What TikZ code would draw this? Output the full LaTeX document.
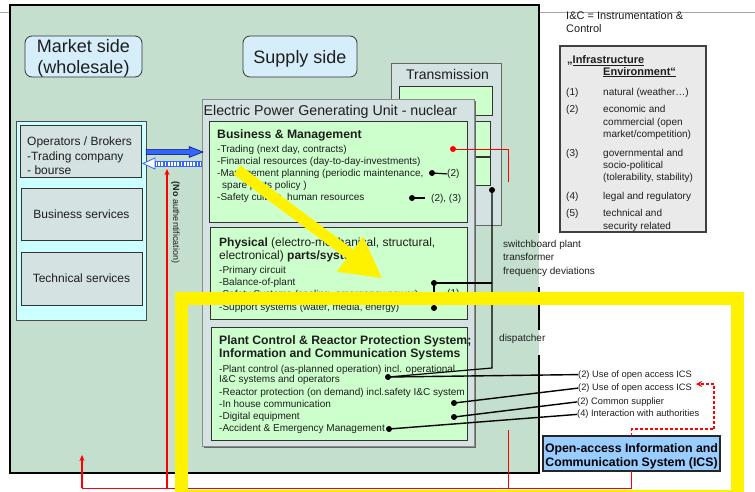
\documentclass[tikz,border=0pt]{standalone}
\usepackage{fontspec}
\setmainfont{Liberation Sans}
\usetikzlibrary{arrows.meta,calc}

\definecolor{mainbg}{RGB}{197,223,206}
\definecolor{sidebox}{RGB}{214,237,250}
\definecolor{opsbg}{RGB}{204,255,255}
\definecolor{greybox}{RGB}{212,226,226}
\definecolor{greenbox}{RGB}{204,255,204}
\definecolor{legendbg}{RGB}{234,234,234}
\definecolor{icsblue}{RGB}{153,204,255}
\definecolor{arrowblue}{RGB}{51,102,255}
\definecolor{txtgrey}{RGB}{30,30,30}

\newcommand\fsz[2]{\fontsize{#1}{#2}\selectfont}

\begin{document}
\begin{tikzpicture}[x=1pt,y=-1pt,
  box/.style={draw=black!80, line width=0.8pt, inner sep=0pt, outer sep=0pt, anchor=north west},
  % multi-line labels are placed by the baseline of their last line
  lbl/.style={inner sep=0pt, anchor=base west, align=left, text=txtgrey},
  dot/.style={circle, fill=black, inner sep=0pt, minimum size=6pt},
  conn/.style={line width=1.4pt, black},
  redline/.style={red, line width=1.2pt},
]
\useasboundingbox (0,0) rectangle (755,491);

% page rule
\draw[black!35, line width=0.8pt] (0,12) -- (755,12);

% overall area (border interrupted on the right by the side notes)
\fill[mainbg] (10,5) rectangle (539,473);
\draw[line width=2.4pt, line join=miter] (539,233) -- (539,5) -- (10,5) -- (10,473) -- (539,473) -- (539,355);
\draw[line width=2.4pt] (539,330) -- (539,287);

% side headings
\node[box, rounded corners=7pt, fill=sidebox, minimum width=117, minimum height=41] (market) at (25,36) {};
\node[lbl, anchor=base, align=center, font=\fsz{18}{20.3}] (markett) at (83.5,73) {Market side\\(wholesale)};
\node[box, rounded corners=7pt, fill=sidebox, minimum width=114, minimum height=41] (supply) at (243,36) {};
\node[lbl, anchor=base, font=\fsz{18}{20}] (supplyt) at (300,63.3) {Supply side};

% market participants
\node[box, fill=opsbg, draw=black!70, minimum width=130, minimum height=199] (mgroup) at (16,121) {};
\node[box, fill=greybox, minimum width=121, minimum height=52] (ops) at (20,125) {};
\node[lbl, font=\fsz{12}{14.7}] (opst) at (27,174.9) {Operators / Brokers\\-Trading company\\- bourse};
\node[box, fill=greybox, minimum width=121, minimum height=52, font=\fsz{12}{14}, text=txtgrey] (bizsvc) at (21,188) {Business services};
\node[box, fill=greybox, minimum width=121, minimum height=53, font=\fsz{12}{14}, text=txtgrey] (techsvc) at (21,252) {Technical services};

% transmission stack
\node[box, fill=greybox, draw=black!60, minimum width=110, minimum height=162] (trans) at (391,63) {};
\node[lbl, font=\fsz{14}{16}] (transt) at (406,79) {Transmission};
\node[box, fill=greenbox, minimum width=93, minimum height=29] (tr1) at (399,86) {};
\node[box, fill=greenbox, minimum width=70, minimum height=35] (tr2) at (420,121) {};
\node[box, fill=greenbox, minimum width=70, minimum height=28] (tr3) at (420,157) {};

% generating unit
\fill[black!60] (204,101) rectangle (476,448);
\node[box, fill=greybox, draw=black!45, minimum width=272, minimum height=347] (epgu) at (202,99) {};
\node[lbl, font=\fsz{14.2}{16}] (epgut) at (203.5,115) {Electric Power Generating Unit - nuclear};

\node[box, fill=greenbox, minimum width=258, minimum height=101] (bm) at (209,121) {};
\node[lbl, font=\bfseries\fsz{12.2}{14}] (bmt) at (217,138.3) {Business \& Management};
\node[lbl, font=\fsz{10}{12.1}] (bmi) at (217,200.9) {-Trading (next day, contracts)\\-Financial resources (day-to-day-investments)\\-Management planning (periodic maintenance,\\\hspace*{5pt}spare parts policy )\\-Safety culture, human resources};

\node[box, fill=greenbox, minimum width=257, minimum height=92] (phys) at (210,227) {};
\node[lbl, font=\fsz{12}{13.3}] (physt) at (219,259.3) {\textbf{Physical} (electro-mechanical, structural,\\electronical) \textbf{parts/systems}};
\node[lbl, font=\fsz{10}{12.2}] (physi) at (219,310.1) {-Primary circuit\\-Balance-of-plant\\-Safety Systems (cooling, emergency power)\\-Support systems (water, media, energy)};

\node[box, fill=greenbox, minimum width=256, minimum height=113] (pc) at (211,327) {};
\node[lbl, font=\bfseries\fsz{12.2}{13.3}] (pct) at (219,357.3) {Plant Control \& Reactor Protection System;\\Information and Communication Systems};
\node[lbl, font=\fsz{10}{10.8}] (pci1) at (219,382.8) {-Plant control (as-planned operation) incl. operational\\I\&C systems and operators};
\node[lbl, font=\fsz{10}{12.2}] (pci2) at (219,431.9) {-Reactor protection (on demand) incl.safety I\&C system\\-In house communication\\-Digital equipment\\-Accident \& Emergency Management};

% notes beside the unit
\node[lbl, font=\fsz{10}{13.4}] (swt) at (503,274.1) {switchboard plant\\transformer\\frequency deviations};
\node[lbl, font=\fsz{10}{12}] (disp) at (499,341.7) {dispatcher};

% infrastructure legend
\node[lbl, font=\fsz{11}{13}] (icnote) at (566,32.3) {I\&C = Instrumentation \&\\Control};
\node[box, fill=legendbg, draw=black!75, line width=1.1pt, minimum width=146, minimum height=186] (legend) at (560,46) {};
\node[lbl, font=\bfseries\fsz{11}{12}] (legt1) at (567,63.3) {„\underline{Infrastructure}};
\node[lbl, font=\bfseries\fsz{11}{12}] (legt2) at (603,75) {\underline{Environment“}};
\begin{scope}[every node/.style={lbl, font=\fsz{10}{12.4}}]
  \node (n1) at (566,95) {(1)};
  \node (t1) at (603,95) {natural (weather…)};
  \node (n2) at (566,112.7) {(2)};
  \node (t2) at (603,137.5) {economic and\\commercial (open\\market/competition)};
  \node (n3) at (566,156) {(3)};
  \node (t3) at (603,180.8) {governmental and\\socio-political\\(tolerability, stability)};
  \node (n4) at (566,199) {(4)};
  \node (t4) at (603,199) {legal and regulatory};
  \node (n5) at (566,216.7) {(5)};
  \node (t5) at (603,229.1) {technical and\\security related};
\end{scope}

% open-access ICS
\node[box, fill=icsblue, draw=black!85, line width=1.2pt, minimum width=177, minimum height=35] (ics) at (543,436) {};
\node[lbl, anchor=base, align=center, text=black, font=\bfseries\fsz{12.3}{13.7}] (icst) at (631.5,466) {Open-access Information and\\Communication System (ICS)};

% dependency labels
\begin{scope}[every node/.style={lbl, font=\fsz{9.3}{11}}]
  \node (use1) at (578,377) {(2) Use of open access ICS};
  \node (use2) at (578,390.5) {(2) Use of open access ICS};
  \node (supp) at (577,404.3) {(2) Common supplier};
  \node (auth) at (577,416.8) {(4) Interaction with authorities};
\end{scope}

% callouts inside the unit
\node[dot] (dbm2) at (432,173) {};
\node[lbl, font=\fsz{10}{12}] (lbm2) at (447,176.5) {(2)};
\draw[conn, line width=1.2pt] (dbm2.center) -- (lbm2.west);
\node[dot] (dbm3) at (412,198) {};
\node[lbl, font=\fsz{10}{12}] (lbm3) at (431,201.5) {(2), (3)};
\draw[conn, line width=1.2pt] (dbm3.center) -- ++(13,0);

\node[dot, fill=red] (dred) at (453,149) {};
\coordinate (redend) at (508,182);
\draw[red, line width=1pt] (dred.center) -| (redend);

\node[dot] (dtr) at (492,190) {};
\node[dot] (dph1) at (434,283) {};
\node[dot] (dph2) at (434,308) {};
\node[lbl, font=\fsz{10}{12}] (lph) at (447,296) {(1)};
\coordinate (bend) at (492,368);
\node[dot] (dpc1) at (388,377) {};
\node[dot] (dpc2) at (454,403) {};
\node[dot] (dpc3) at (454,417) {};
\node[dot] (dpc4) at (389,429) {};

\draw[conn, line width=1.2pt] (dph1.center) -- (dph2.center);
\draw[conn, line width=1.2pt] (dph1.center) -- (dph1 -| dtr);
\draw[conn, line width=1.2pt] (dtr.center) -- (bend) -- (dpc1.center);
\draw[conn] (dpc1.center) -- (use1.west);
\draw[conn] (dpc2.center) -- (use2.west);
\draw[conn] (dpc3.center) -- (supp.west);
\draw[conn] (dpc4.center) -- (auth.west);

% data flow between brokers and the unit
\draw[fill=arrowblue, draw=black!60!blue, line width=0.5pt]
  (146,149.5) -- (189,149.5) -- (189,146.5) -- (203,152) -- (189,157.5) -- (189,154.5) -- (146,154.5) -- cycle;
\fill[white] (155,161) rectangle (201,166);
\foreach \i in {0,...,13} \draw[arrowblue, line width=1.5pt] (157.5+\i*3.2,161) -- (157.5+\i*3.2,166);
\draw[arrowblue, line width=0.8pt, fill=white] (143,163.5) -- (155,158) -- (155,169) -- cycle;
\draw[arrowblue, line width=0.8pt] (155,161) rectangle (201,166);
\node[inner sep=0pt, rotate=-90, font=\fsz{9}{10}, text=txtgrey] (noauth) at (175.5,222.5) {\textbf{(No} authentification)};

% feedback lines
\coordinate (rA) at (82,488);
\coordinate (rAtip) at (82,455);
\coordinate (rB) at (167,488);
\coordinate (rBtip) at (167,169);
\coordinate (rC) at (508,430);
\coordinate (rCbase) at (508,488);
\coordinate (rD) at (631.5,488);
\draw[redline, -{Stealth[length=6pt,width=5pt]}] (rA) -- (rAtip);
\draw[redline, -{Stealth[length=6pt,width=5pt]}] (rB) -- (rBtip);
\draw[red, line width=1pt] (rA) -- (rD);
\draw[red, line width=0.8pt] (rC) -- (rCbase);
\draw[red, line width=0.9pt] (ics.south) -- (rD);
\coordinate (dashc) at (714,429);
\coordinate (dasht) at (696,384);
\draw[red, line width=1.3pt, dash pattern=on 3pt off 2pt, -{Stealth[length=6pt,width=6pt]}] (ics.north) |- (dashc) |- (dasht);

% highlight
\fill[yellow] (240.3,165.6) -- (353.2,249.7) -- (363.0,236.5) -- (382,278) -- (336.8,271.7) -- (346.6,258.5) -- (233.7,174.4) -- cycle;
\draw[yellow, line width=13pt] (181.5,298.5) rectangle (737,496);
\end{tikzpicture}
\end{document}
